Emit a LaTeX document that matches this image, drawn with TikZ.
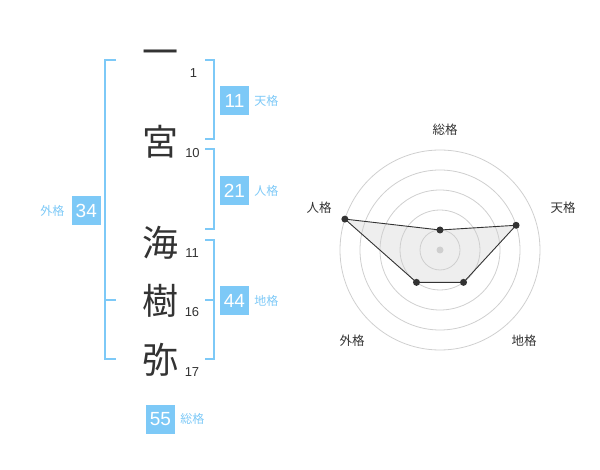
\documentclass[tikz,border=0pt]{standalone}
\usepackage{fontspec}
\setmainfont{Liberation Sans}
\newfontfamily\jp{Noto Sans CJK JP}
\usetikzlibrary{positioning}
\definecolor{sky}{HTML}{7DC9F7}
\definecolor{ink}{HTML}{333333}
\definecolor{ringgrey}{HTML}{CFCFCF}
\definecolor{veil}{HTML}{EEEEEE}

\begin{document}
\begin{tikzpicture}[x=1pt, y=-1pt,
	kanji/.style={text=ink, font=\jp\fontsize{36}{36}\selectfont},
	strokes/.style={text=ink, font=\fontsize{13}{13}\selectfont},
	brace/.style={sky, line width=2pt},
	score/.style={fill=sky, text=white, minimum size=29pt, inner sep=0pt, font=\fontsize{19}{19}\selectfont},
	kaku/.style={text=sky, font=\jp\fontsize{12}{12}\selectfont, inner sep=0pt},
	axis/.style={text=ink, font=\jp\fontsize{12.5}{12.5}\selectfont},
	ring/.style={ringgrey, line width=0.8pt}]
\useasboundingbox (0,0) rectangle (600,470);

\node[kanji] (c1) at (160,58) {一};
\node[kanji] (c2) at (160,142) {宮};
\node[kanji] (c3) at (160,243) {海};
\node[kanji] (c4) at (160,301) {樹};
\node[kanji] (c5) at (160,360) {弥};

\node[strokes] (s1) at (193.5,73) {1};
\node[strokes] (s2) at (192.5,153) {10};
\node[strokes] (s3) at (192,253) {11};
\node[strokes] (s4) at (192,312) {16};
\node[strokes] (s5) at (192,372) {17};

\draw[brace] (116,60) -- (105,60) -- (105,359) -- (116,359);
\draw[brace] (105,300) -- (116,300);
\draw[brace] (205,60) -- (214,60) -- (214,139) -- (205,139);
\draw[brace] (205,149) -- (214,149) -- (214,229) -- (205,229);
\draw[brace] (205,240) -- (214,240) -- (214,359) -- (205,359);
\draw[brace] (205,300) -- (214,300);

\node[score] (ten) at (234.5,100.5) {11};
\node[score] (jin) at (234.5,190.5) {21};
\node[score] (chi) at (234.5,300.5) {44};
\node[score] (gai) at (86.3,210.5) {34};
\node[score] (sou) at (160.5,419) {55};

\node[kaku, right=5pt of ten] {天格};
\node[kaku, right=5pt of jin] {人格};
\node[kaku, right=5pt of chi] {地格};
\node[kaku, left=7pt of gai] {外格};
\node[kaku, right=5pt of sou] {総格};

\coordinate (c) at (440,250);
\coordinate (rs) at ([shift={(-90:20)}]c);
\coordinate (rt) at ([shift={(-18:80)}]c);
\coordinate (rc) at ([shift={(54:40)}]c);
\coordinate (rg) at ([shift={(126:40)}]c);
\coordinate (rj) at ([shift={(198:100)}]c);

\fill[veil] (rs) -- (rt) -- (rc) -- (rg) -- (rj) -- cycle;
\foreach \r in {20,40,60,80,100}
	\draw[ring] (c) circle (\r pt);
\fill[ringgrey] (c) circle (3.5pt);
\draw[ink, line width=0.9pt] (rs) -- (rt) -- (rc) -- (rg) -- (rj) -- cycle;
\foreach \p in {rs,rt,rc,rg,rj}
	\fill[ink] (\p) circle (3.5pt);

\node[axis] (as) at (445,130) {総格};
\node[axis] (at) at (563,208) {天格};
\node[axis] (ac) at (524,341) {地格};
\node[axis] (ag) at (352,341) {外格};
\node[axis] (aj) at (319,208) {人格};
\end{tikzpicture}
\end{document}
